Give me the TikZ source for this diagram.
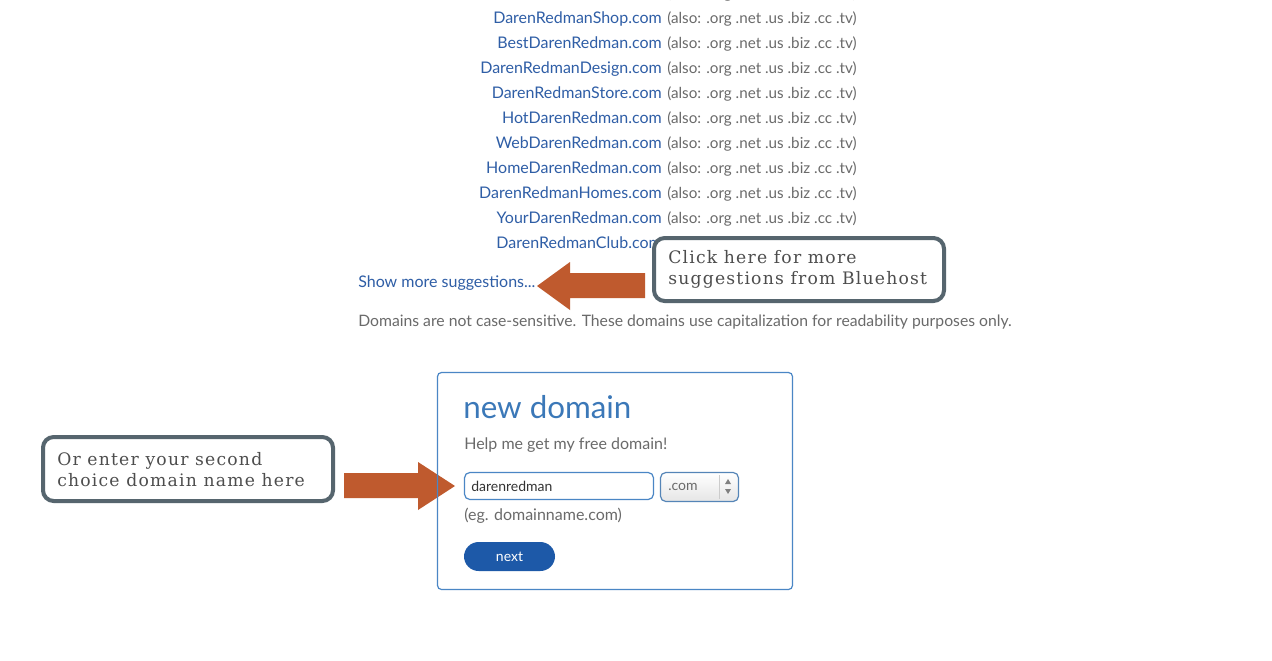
\documentclass[tikz,border=0pt]{standalone}
\usepackage{fontspec}
\setmainfont{Lato}
\newfontfamily\callfont[LetterSpace=7]{DejaVu Serif}
\definecolor{linkblue}{HTML}{2F5EA6}
\definecolor{txtgray}{HTML}{6A6A6A}
\definecolor{arroworange}{HTML}{BF5A2E}
\definecolor{calloutborder}{HTML}{56656E}
\definecolor{calltext}{HTML}{4D4D4D}
\definecolor{boxblue}{HTML}{4A86C5}
\definecolor{titleblue}{HTML}{3B78B8}
\definecolor{btnblue}{HTML}{1D59A8}
\tikzset{
  domname/.style={anchor=base east, inner sep=0pt, text=linkblue, font=\fontsize{12}{14}\selectfont},
  alsotext/.style={anchor=base west, inner sep=0pt, text=txtgray, font=\fontsize{11.4}{14}\selectfont},
  uitext/.style={anchor=base west, inner sep=0pt, text=txtgray, font=\fontsize{12}{14}\selectfont},
  callout/.style={draw=calloutborder, line width=3pt, fill=white, rounded corners=8pt},
  calltxt/.style={anchor=west, inner sep=0pt, text=calltext, align=left, font=\callfont\fontsize{12.9}{15.8}\selectfont},
  bigarrow/.style={fill=arroworange, draw=none},
}
\begin{document}
\begin{tikzpicture}[x=0.75pt,y=-0.75pt]
\useasboundingbox (0,0) rectangle (1272,661);
\clip (0,0) rectangle (1272,661);
\fill[white] (0,0) rectangle (1272,661);
% list of suggestions
\node[alsotext] (a0) at (667,-2) {(also: .org .net .us .biz .cc .tv)};
\foreach \n/\y/\name in {1/17/DarenRedmanShop.com, 2/42/BestDarenRedman.com, 3/67/DarenRedmanDesign.com, 4/92/DarenRedmanStore.com, 5/117/HotDarenRedman.com, 6/142/WebDarenRedman.com, 7/167/HomeDarenRedman.com, 8/192/DarenRedmanHomes.com, 9/217/YourDarenRedman.com}{
  \node[domname] (d\n) at (662,\y+6) {\name};
  \node[alsotext] (a\n) at (667,\y+6) {(also: .org .net .us .biz .cc .tv)};
}
\node[domname] (d10) at (662,248) {DarenRedmanClub.com};
\node[uitext, text=linkblue] (more) at (358,287) {Show more suggestions...};
\node[uitext, font=\fontsize{11.8}{14}\selectfont] (note) at (358,326) {Domains are not case-sensitive. These domains use capitalization for readability purposes only.};
% callout 1
\node[callout, minimum width=290pt*0.75, minimum height=63pt*0.75, anchor=north west, inner sep=0pt] (c1) at (652,236) {};
\node[calltxt] (c1t) at (668,269.5) {Click here for more\\suggestions from Bluehost};
% arrow 1 (pointing left)
\coordinate (t1) at (537,286);
\fill[bigarrow] (t1) -- (570,262) -- (570,273) -- (645,273) -- (645,298) -- (570,298) -- (570,310) -- cycle;
% callout 2
\node[callout, minimum width=290pt*0.75, minimum height=64pt*0.75, anchor=north west, inner sep=0pt] (c2) at (41,435) {};
\node[calltxt] (c2t) at (57,469.5) {Or enter your second\\choice domain name here};
% arrow 2 (pointing right)
\coordinate (t2) at (455,486);
\fill[bigarrow] (t2) -- (418,462) -- (418,473) -- (344,473) -- (344,498) -- (418,498) -- (418,510) -- cycle;
% domain box
\draw[boxblue, line width=0.9pt, rounded corners=3pt] (437.5,372.5) rectangle (792.5,589.5);
\node[anchor=west, inner sep=0pt, text=titleblue, font=\fontsize{23.5}{28}\selectfont] (title) at (463,407) {new domain};
\node[uitext] (help) at (464,449) {Help me get my free domain!};
\draw[boxblue, line width=0.9pt, rounded corners=4pt, fill=white] (464.5,472.5) rectangle (653.5,499.5);
\node[anchor=west, inner sep=0pt, text=black!80, font=\fontsize{10.5}{12}\selectfont] (inp) at (471,486) {darenredman};
\shade[top color=white, bottom color=black!10, rounded corners=4pt] (660.5,472.5) rectangle (738.5,501.5);
\draw[boxblue!80!gray, line width=0.9pt, rounded corners=4pt] (660.5,472.5) rectangle (738.5,501.5);
\draw[black!20] (719,475) -- (719,499);
\node[anchor=west, inner sep=0pt, text=txtgray, font=\fontsize{10.5}{12}\selectfont] (sel) at (668,487) {.com};
\fill[gray] (725,484) -- (731,484) -- (728,479) -- cycle;
\fill[gray] (725,489) -- (731,489) -- (728,494) -- cycle;
\node[uitext] (eg) at (464,520) {(eg. domainname.com)};
\node[fill=btnblue, rounded corners=11pt, minimum width=91pt*0.75, minimum height=29pt*0.75, inner sep=0pt, text=white, font=\fontsize{10.5}{12}\selectfont] (next) at (509.5,556.5) {next};
\end{tikzpicture}
\end{document}
